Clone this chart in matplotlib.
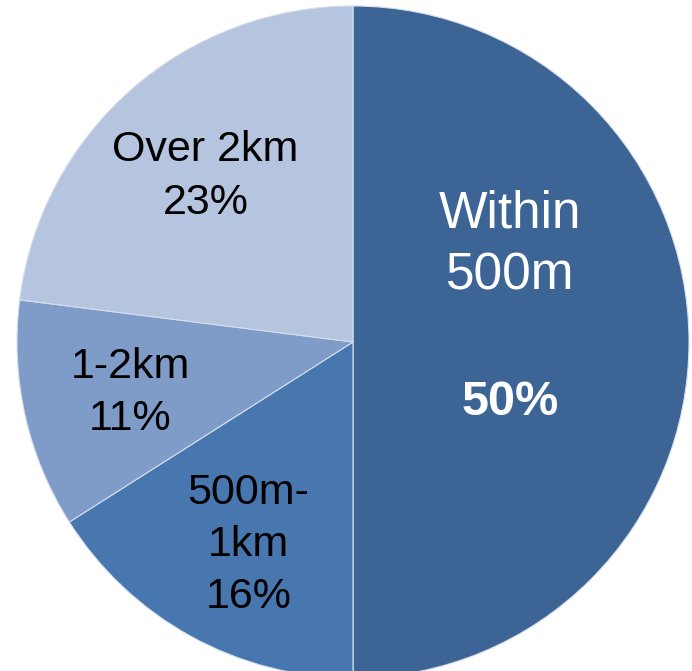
import numpy as np
import matplotlib
matplotlib.use("Agg")
import matplotlib.pyplot as plt

# datos del grafico
categorias = ["Within\n500m", "500m-\n1km", "1-2km", "Over 2km"]
porcentajes = [50, 16, 11, 23]
colores = ["#3c6596", "#4877b0", "#7f9bc7", "#b5c4df"]

# posicion de las etiquetas (fraccion del radio, giro en grados)
dist_etiqueta = [0.48, 0.68, 0.68, 0.66]
giro_etiqueta = [12.5, 1.5, 0.3, 0.3]

fig = plt.figure(figsize=(6.92, 6.71), dpi=100)
ax = fig.add_axes([0, 0, 1, 1])

centro = (353, 329)
radio = 336
wedges, _ = ax.pie(porcentajes, colors=colores, startangle=90, counterclock=False,
                   center=centro, radius=radio,
                   wedgeprops=dict(edgecolor="#d6deec", linewidth=0.8))
ax.set_xlim(0, 692)
ax.set_ylim(0, 671)
ax.set_aspect("equal")
ax.axis("off")

fuente = ["Liberation Sans", "DejaVu Sans"]
for i, w in enumerate(wedges):
    ang = np.deg2rad((w.theta1 + w.theta2) / 2 + giro_etiqueta[i])
    x = centro[0] + radio * dist_etiqueta[i] * np.cos(ang)
    y = centro[1] + radio * dist_etiqueta[i] * np.sin(ang)
    if i == 0:
        # etiqueta blanca, el porcentaje en negrita
        ax.text(x, y + 62, categorias[i], color="white", fontsize=37,
                family=fuente, ha="center", va="center", linespacing=1.33)
        ax.text(x, y - 95, f"{porcentajes[i]}%", color="white", fontsize=35,
                fontweight="bold", family=fuente, ha="center", va="center")
    else:
        ax.text(x, y, f"{categorias[i]}\n{porcentajes[i]}%", color="black",
                fontsize=31, family=fuente,
                ha="center", va="center", linespacing=1.4)

fig.savefig("out.png", dpi=100)
